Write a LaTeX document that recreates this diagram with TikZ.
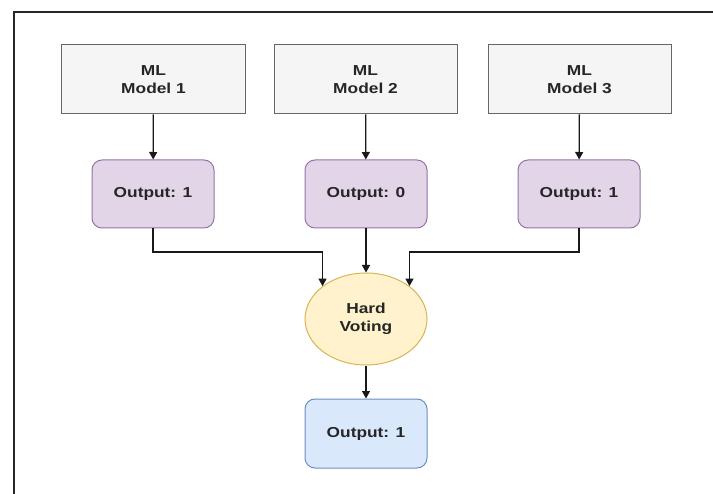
\documentclass[tikz,border=0pt]{standalone}
\usepackage{fontspec}
\newfontfamily\dfont[FakeStretch=1.2]{Liberation Sans}
\usetikzlibrary{shapes.geometric,arrows.meta}
\definecolor{gfill}{HTML}{F5F5F5}
\definecolor{gline}{HTML}{666666}
\definecolor{pfill}{HTML}{E1D5E7}
\definecolor{pline}{HTML}{9673A6}
\definecolor{yfill}{HTML}{FFF2CC}
\definecolor{yline}{HTML}{D6B656}
\definecolor{bfill}{HTML}{DAE8FC}
\definecolor{bline}{HTML}{6C8EBF}
\definecolor{txt}{HTML}{262626}
\tikzset{
  every node/.style={font=\dfont\bfseries\fontsize{14.5}{18.5}\selectfont, text=txt, align=center, inner sep=0pt},
  modelbox/.style={rectangle, draw=gline, fill=gfill, line width=1bp, minimum width=183bp, minimum height=69bp},
  outbox/.style={rectangle, rounded corners=10bp, draw=pline, fill=pfill, line width=1bp, minimum width=122bp, minimum height=68bp},
  finalbox/.style={rectangle, rounded corners=10bp, draw=bline, fill=bfill, line width=1bp, minimum width=122bp, minimum height=69bp},
  votenode/.style={ellipse, draw=yline, fill=yfill, line width=1bp, minimum width=122bp, minimum height=92bp},
  arr/.style={-{Triangle[length=7.5bp,width=8bp]}, line width=1.3bp, draw=black!90}
}
\begin{document}
\begin{tikzpicture}[x=1bp,y=-1bp]
\fill[white] (0,0) rectangle (713,494);
\useasboundingbox (0,0) rectangle (713,494);
\draw[line width=2bp, color=black!85] (14,12) rectangle (725,505);
\node[modelbox] (m1) at (153.5,79.5) {ML\\Model 1};
\node[modelbox] (m2) at (365.5,79.5) {ML\\Model 2};
\node[modelbox] (m3) at (579.5,79.5) {ML\\Model 3};
\node[outbox] (o1) at (153,194) {Output: 1};
\node[outbox] (o2) at (366,194) {Output: 0};
\node[outbox] (o3) at (579,194) {Output: 1};
\node[votenode] (hv) at (366,319) {Hard\\Voting};
\node[finalbox] (fo) at (366,433.5) {Output: 1};
\coordinate (jl) at (0,252);
\draw[arr] (m1) -- (o1);
\draw[arr] (m2) -- (o2);
\draw[arr] (m3) -- (o3);
\draw[arr] (o2) -- (hv);
\draw[arr] (o1.south) -- (o1.south |- jl) -| (hv.north west);
\draw[arr] (o3.south) -- (o3.south |- jl) -| (hv.north east);
\draw[arr] (hv) -- (fo);
\end{tikzpicture}
\end{document}
